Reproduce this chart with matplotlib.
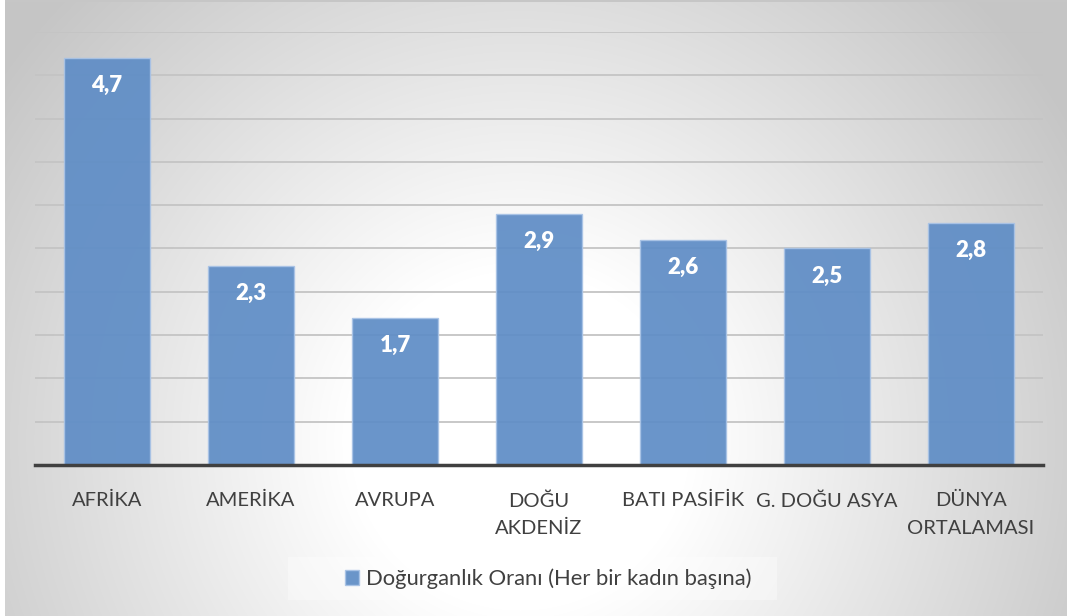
import numpy as np
import matplotlib
matplotlib.use("Agg")
import matplotlib.pyplot as plt
from matplotlib.patches import Rectangle

categories = ["AFRİKA", "AMERİKA", "AVRUPA", "DOĞU\nAKDENİZ", "BATI PASİFİK", "G. DOĞU ASYA", "DÜNYA\nORTALAMASI"]
values = [4.7, 2.3, 1.7, 2.9, 2.6, 2.5, 2.8]
value_labels = ["4,7", "2,3", "1,7", "2,9", "2,6", "2,5", "2,8"]
series_name = "Doğurganlık Oranı (Her bir kadın başına)"

W, H = 1067, 616
plt.rcParams['font.family'] = ['Lato', 'DejaVu Sans']
fig = plt.figure(figsize=(W / 100, H / 100), dpi=100)

# background radial gradient
bg = fig.add_axes([0, 0, 1, 1], zorder=-10)
yy, xx = np.mgrid[0:H, 0:W]
d = np.hypot(xx - 520, yy - 440)
v = 255 - 58 * np.clip((d - 170) / 470, 0, 1)
v = v / 255.0
img = np.dstack([v, v, v])
img[:, :5, :] = 1.0
img[:2, 5:, :] = 0.78
bg.imshow(img, extent=[0, W, H, 0], aspect='auto', interpolation='bilinear')
bg.set_xlim(0, W)
bg.set_ylim(H, 0)
bg.axis('off')
# legend box
bg.add_patch(Rectangle((288, 557), 489, 43, facecolor='white', alpha=0.35, edgecolor='none'))

ax = fig.add_axes([35 / W, 1 - 465 / H, (1043 - 35) / W, (465 - 32) / H])
ax.patch.set_alpha(0)
x = np.arange(len(categories))
bars = ax.bar(x, values, width=0.6, color='#5f8dc6', alpha=0.93,
              edgecolor='#a9c3e6', linewidth=1.0, zorder=3, label=series_name)
ax.set_xlim(-0.5, len(categories) - 0.5)
ax.set_ylim(0, 5.0)
ax.set_yticks(np.arange(0, 5.01, 0.5))
ax.yaxis.grid(True, color='#c4c4c4', linewidth=1.3, zorder=1)
ax.set_axisbelow(True)
ax.tick_params(axis='y', left=False, labelleft=False)
ax.tick_params(axis='x', bottom=False, pad=16, labelsize=14.5, labelcolor='#404040')
ax.set_xticks(x)
ax.set_xticklabels(categories, linespacing=1.75, va='top')
for s in ['top', 'right', 'left']:
    ax.spines[s].set_visible(False)
ax.spines['bottom'].set_color('#404040')
ax.spines['bottom'].set_linewidth(2.5)
ax.spines['bottom'].set_zorder(5)

for xi, val, lab in zip(x, values, value_labels):
    ax.annotate(lab, (xi, val), xytext=(0, -20), textcoords='offset points',
                ha='center', va='center', color='white', fontsize=16, fontweight='heavy', zorder=6)

leg = fig.legend(handles=[bars], labels=[series_name], loc='center',
                 bbox_to_anchor=(548 / W, 1 - 579 / H), frameon=False,
                 fontsize=15.8, handlelength=0.65, handleheight=0.65, handletextpad=0.3,
                 labelcolor='#404040')
fig.savefig('out.png', dpi=100)
